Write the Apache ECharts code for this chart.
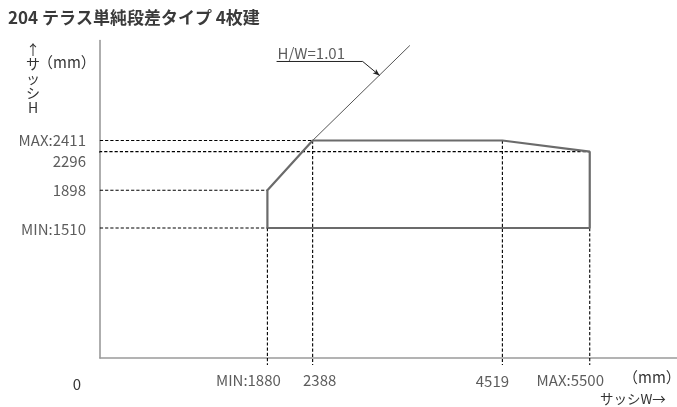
<!DOCTYPE html>
<html>
<head>
<meta charset="utf-8">
<script src="https://cdn.jsdelivr.net/npm/echarts@6/dist/echarts.min.js"></script>
<style>
html,body{margin:0;padding:0;background:#fff;}
#chart{width:677px;height:407px;}
</style>
</head>
<body>
<div id="chart"></div>
<script>
// ---- data ----
const xTicks = [1880, 2388, 4519, 5500];
const xTickLabels = ['MIN:1880', '2388', '4519', 'MAX:5500'];
const yTicks = [2411, 2296, 1898, 1510];
const yTickLabels = ['MAX:2411', '2296', '1898', 'MIN:1510'];
const boundaryW = [1880, 1880, 2388, 4519, 5500, 5500, 1880];
const boundaryH = [1510, 1898, 2411, 2411, 2296, 1510, 1510];
const ratioW = [1880, 2388, 3480];
const ratioH = [1898, 2411, 3390];
const hGuideEndW = [2388, 5500, 1880, 1880];
const vGuideTopH = [1510, 2411, 2411, 1510];
const guideStartW = -118;
const guideBottomH = 100;
const ratioLabel = 'H/W=1.01';
const leaderW = [1983, 2950, 3141];
const leaderH = [3225, 3225, 3080];

const FONT = '"Noto Sans CJK JP", "Noto Sans", sans-serif';
const TXT = '#333';
const DASH = {color: '#000', width: 1.1, type: [3.2, 2]};
const FS = 15;

const chart = echarts.init(document.getElementById('chart'), null, {renderer: 'canvas'});

const series = [];
// horizontal guides
yTicks.forEach((h, i) => {
  const pts = (h === 2296)
    ? [[guideStartW + 12, h - 66], [0, h], [hGuideEndW[i], h]]
    : [[guideStartW, h], [hGuideEndW[i], h]];
  series.push({type: 'line', data: pts, symbol: 'none', clip: false, silent: true,
    lineStyle: DASH, z: 2, animation: false});
});
// vertical guides
xTicks.forEach((w, i) => {
  series.push({type: 'line', data: [[w, vGuideTopH[i]], [w, guideBottomH]], symbol: 'none',
    clip: false, silent: true, lineStyle: DASH, z: 2, animation: false});
});
// H/W ratio line
series.push({type: 'line', data: ratioW.map((w, i) => [w, ratioH[i]]), symbol: 'none',
  clip: false, silent: true, lineStyle: {color: '#555', width: 1}, z: 3, animation: false});
// boundary
series.push({type: 'line', data: boundaryW.map((w, i) => [w, boundaryH[i]]), symbol: 'none',
  clip: false, silent: true, lineStyle: {color: '#6b6b6b', width: 2.2}, z: 4, animation: false});
// leader with arrow
series.push({type: 'line', clip: false, silent: true, z: 5, animation: false,
  showSymbol: true,
  lineStyle: {color: '#222', width: 1},
  itemStyle: {color: '#222'},
  data: leaderW.map((w, i) => {
    const d = {value: [w, leaderH[i]], symbol: 'none'};
    if (i === leaderW.length - 1) {
      d.symbol = 'arrow'; d.symbolSize = [4, 7]; d.symbolRotate = -129.5;
    }
    return d;
  })
});
// H/W label
series.push({type: 'scatter', symbolSize: 0, silent: true, clip: false, z: 6, animation: false,
  data: [{value: [leaderW[0], leaderH[0]], label: {show: true, position: 'top', align: 'left',
    distance: 1, offset: [1, 0], formatter: ratioLabel}}],
  label: {color: TXT, fontSize: FS, fontFamily: FONT}
});
// x tick labels
const xOffsets = [[-19, 10], [7, 10], [-10, 11], [-19.5, 10]];
series.push({type: 'scatter', symbolSize: 0, silent: true, clip: false, z: 6, animation: false,
  data: xTicks.map((w, i) => ({value: [w, 171], label: {show: true, position: 'bottom',
    offset: xOffsets[i], formatter: xTickLabels[i]}})),
  label: {color: TXT, fontSize: FS, fontFamily: FONT}
});
// y tick labels
const yOffsets = [[-14, 0], [-14, 10], [-14, 0], [-14, 1.5]];
series.push({type: 'scatter', symbolSize: 0, silent: true, clip: false, z: 6, animation: false,
  data: yTicks.map((h, i) => ({value: [0, h], label: {show: true, position: 'left',
    distance: 0, offset: yOffsets[i], formatter: yTickLabels[i]}})),
  label: {color: TXT, fontSize: FS, fontFamily: FONT}
});

chart.setOption({
  animation: false,
  backgroundColor: '#fff',
  grid: {left: 100, right: 0, top: 40.5, bottom: 49},
  xAxis: {type: 'value', min: 0, max: 6480,
    axisLine: {show: true, lineStyle: {color: '#9a9a9a', width: 1.6}},
    axisTick: {show: false}, axisLabel: {show: false}, splitLine: {show: false}},
  yAxis: {type: 'value', min: 171, max: 3441,
    axisLine: {show: true, lineStyle: {color: '#9a9a9a', width: 1.6}},
    axisTick: {show: false}, axisLabel: {show: false}, splitLine: {show: false}},
  graphic: [
    {type: 'text', left: 8, top: 9, style: {text: '204 テラス単純段差タイプ 4枚建',
      font: 'bold 17px ' + FONT, fill: '#3a3a3a'}},
    {type: 'text', x: 33, y: 42, style: {text: '↑\nサ\nッ\nシ\nH', align: 'center',
      fontSize: 14, lineHeight: 14.5, fontFamily: FONT, fill: TXT}},
    {type: 'text', x: 38, y: 55, style: {text: '（mm）', fontSize: FS, fontFamily: FONT, fill: TXT}},
    {type: 'text', x: 77, y: 384, style: {text: '0', align: 'center', verticalAlign: 'middle',
      fontSize: FS, fontFamily: FONT, fill: TXT}},
    {type: 'text', x: 623, y: 377, style: {text: '（mm）', verticalAlign: 'middle',
      fontSize: FS, fontFamily: FONT, fill: TXT}},
    {type: 'text', x: 600, y: 399, style: {text: 'サッシW→', verticalAlign: 'middle',
      fontSize: 13.5, fontFamily: FONT, fill: TXT}}
  ],
  series: series
});
</script>
</body>
</html>
